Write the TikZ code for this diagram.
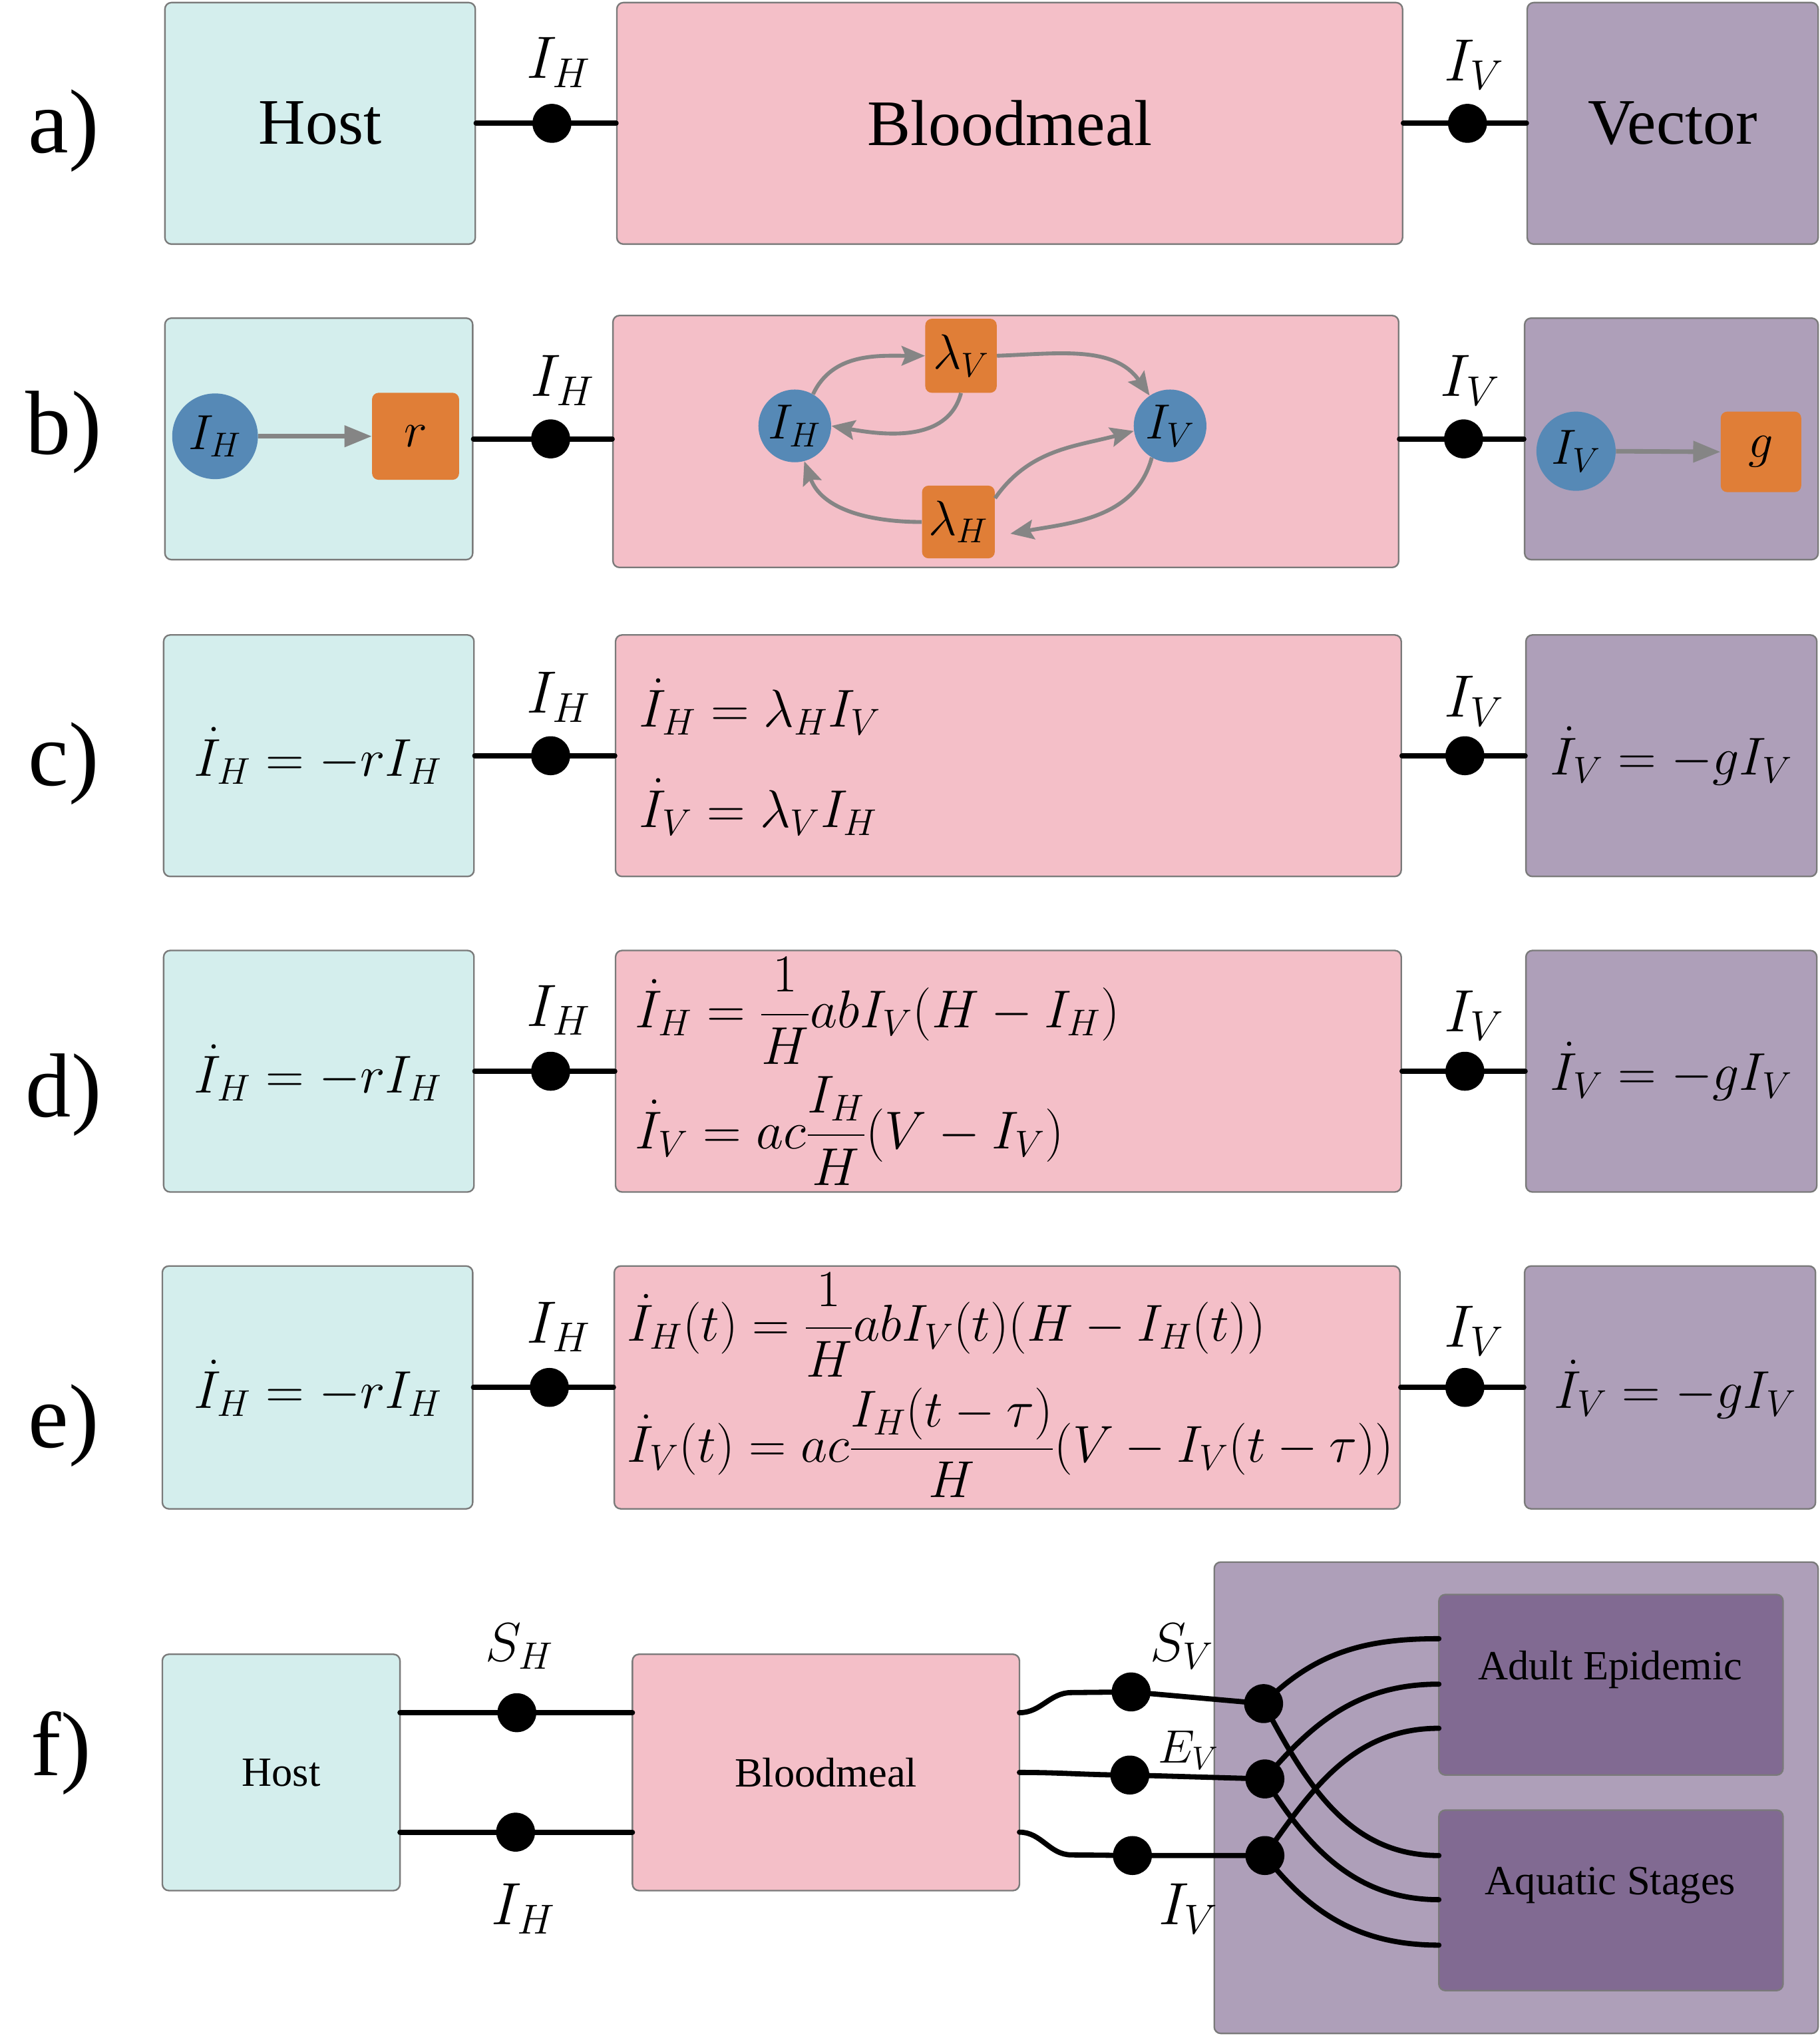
\RequirePackage{fix-cm}
\documentclass[tikz,border=0pt]{standalone}
\usepackage{amsmath}
\usepackage[no-math]{fontspec}
\setmainfont{Liberation Serif}
\usetikzlibrary{arrows.meta}
\definecolor{hostc}{HTML}{D4EEED}
\definecolor{bloodc}{HTML}{F4BFC8}
\definecolor{vecc}{HTML}{AE9FB9}
\definecolor{innerc}{HTML}{816A92}
\definecolor{orangec}{HTML}{E07E37}
\definecolor{bluec}{HTML}{5689B6}
\definecolor{arrowc}{HTML}{858585}
\definecolor{borderc}{HTML}{7A7A7A}
\newcommand\myfs[1]{\fontsize{#1}{#1}\selectfont}
\begin{document}
\begin{tikzpicture}[x=1pt,y=-1pt,
  box/.style={draw=borderc, line width=1.2, rounded corners=5, inner sep=0},
  panel/.style={font=\myfs{70}},
  boxtext/.style={font=\myfs{50}},
  smalltext/.style={font=\myfs{32}},
  lab/.style={font=\myfs{46}},
  eq/.style={font=\myfs{41}, inner sep=0},
  conn/.style={line width=4, black, line cap=round},
  jdot/.style={circle, fill=black, minimum size=30, inner sep=0},
  garrow/.style={draw=arrowc, line width=3.5, -{Triangle[length=21,width=16]}},
  carrow/.style={draw=arrowc, line width=3, -{Stealth[length=18,width=15,inset=3]}},
  comp/.style={circle, fill=bluec, inner sep=0, font=\myfs{38}},
  rate/.style={fill=orangec, rounded corners=5, inner sep=0, font=\myfs{38}},
]
\useasboundingbox (0,0) rectangle (1401,1568);

% panel labels
\node[panel] (la) at (49,101) {a)};
\node[panel] (lb) at (49,333) {b)};
\node[panel] (lc) at (49,588) {c)};
\node[panel] (ld) at (49,843) {d)};
\node[panel] (le) at (49,1098) {e)};
\node[panel] (lf) at (47,1350) {f)};

% ---------- Row a ----------
\node[box, fill=hostc, minimum width=239, minimum height=186, boxtext] (ha) at (246.5,95) {Host};
\node[box, fill=bloodc, minimum width=605, minimum height=186, boxtext] (ba) at (777.5,95) {Bloodmeal};
\node[box, fill=vecc, minimum width=224, minimum height=186, boxtext] (va) at (1288,95) {Vector};
\node[jdot] (da1) at (425,95) {};
\node[jdot] (da2) at (1130,95) {};
\draw[conn] (ha.east) -- (da1.center) -- (ba.west);
\draw[conn] (ba.east) -- (da2.center) -- (va.west);
\node[lab] (ta1) at (430,48) {$I_H$};
\node[lab] (ta2) at (1135,50) {$I_V$};

% ---------- Row b ----------
\node[box, fill=hostc, minimum width=237, minimum height=186] (hb) at (245.5,338) {};
\node[box, fill=bloodc, minimum width=605, minimum height=194] (bb) at (774.5,340) {};
\node[box, fill=vecc, minimum width=226, minimum height=186] (vb) at (1287,338) {};
\node[jdot] (db1) at (424,338) {};
\node[jdot] (db2) at (1127,338) {};
\draw[conn] (hb.east) -- (db1.center) -- (db1.center -| bb.west);
\draw[conn] (db2.center -| bb.east) -- (db2.center) -- (vb.west);
\node[lab] (tb1) at (433,293) {$I_H$};
\node[lab] (tb2) at (1132,293) {$I_V$};
% host inside
\node[comp, minimum size=66] (hbI) at (165.6,336) {$I_H$};
\node[rate, minimum width=67, minimum height=67] (hbr) at (320,336) {$r$};
\draw[garrow] (hbI.east) -- (hbr.west);
% vector inside
\node[comp, minimum size=61] (vbI) at (1213.6,347.5) {$I_V$};
\node[rate, minimum width=62, minimum height=62] (vbg) at (1356,348) {$g$};
\draw[garrow] (vbI.east) -- (vbg.west);
% bloodmeal inside
\node[comp, minimum size=56] (bIH) at (612,328) {$I_H$};
\node[comp, minimum size=56] (bIV) at (901,328) {$I_V$};
\node[rate, minimum width=55, minimum height=57] (blV) at (740,274) {$\lambda_V$};
\node[rate, minimum width=56, minimum height=56] (blH) at (738,402) {$\lambda_H$};
\coordinate (blHin) at (778,411);
\draw[carrow] (bIH.60) to[out=65,in=180] (blV.west);
\draw[carrow] (blV.south) to[out=-105,in=-10] (bIH.east);
\draw[carrow] (blV.east) to[out=2,in=125] (bIV.124);
\draw[carrow] (blH.33) to[out=55,in=195] (bIV.188);
\draw[carrow] (bIV.240) to[out=-105,in=10] (blHin);
\draw[carrow] (blH.west) to[out=180,in=-70] (bIH.-75);

% ---------- Row c ----------
\node[box, fill=hostc, minimum width=239, minimum height=186] (hc) at (245.5,582) {};
\node[box, fill=bloodc, minimum width=605, minimum height=186] (bc) at (776.5,582) {};
\node[box, fill=vecc, minimum width=224, minimum height=186] (vc) at (1287,582) {};
\node[jdot] (dc1) at (424,582) {};
\node[jdot] (dc2) at (1128,582) {};
\draw[conn] (hc.east) -- (dc1.center) -- (bc.west);
\draw[conn] (bc.east) -- (dc2.center) -- (vc.west);
\node[lab] (tc1) at (430,537) {$I_H$};
\node[lab] (tc2) at (1135,540) {$I_V$};
\node[eq] (ehc) at (245,582) {$\dot I_H = -rI_H$};
\node[eq] (evc) at (1287,582) {$\dot I_V = -gI_V$};
\node[eq, anchor=base west] (ebc1) at (492,560) {$\dot I_H = \lambda_H I_V$};
\node[eq, anchor=base west] (ebc2) at (492,637) {$\dot I_V = \lambda_V I_H$};

% ---------- Row d ----------
\node[box, fill=hostc, minimum width=239, minimum height=186] (hd) at (245.5,825) {};
\node[box, fill=bloodc, minimum width=605, minimum height=186] (bd) at (776.5,825) {};
\node[box, fill=vecc, minimum width=224, minimum height=186] (vd) at (1287,825) {};
\node[jdot] (dd1) at (424,825) {};
\node[jdot] (dd2) at (1128,825) {};
\draw[conn] (hd.east) -- (dd1.center) -- (bd.west);
\draw[conn] (bd.east) -- (dd2.center) -- (vd.west);
\node[lab] (td1) at (430,778) {$I_H$};
\node[lab] (td2) at (1135,782) {$I_V$};
\node[eq] (ehd) at (245,826) {$\dot I_H = -rI_H$};
\node[eq] (evd) at (1287,825) {$\dot I_V = -gI_V$};
\node[eq, anchor=base west] (ebd1) at (489,791.5) {$\displaystyle \dot I_H = \frac{1}{H}abI_V(H-I_H)$};
\node[eq, anchor=base west] (ebd2) at (489,884.5) {$\displaystyle \dot I_V = ac\frac{I_H}{H}(V-I_V)$};

% ---------- Row e ----------
\node[box, fill=hostc, minimum width=239, minimum height=187] (he) at (244.5,1068.5) {};
\node[box, fill=bloodc, minimum width=605, minimum height=187] (be) at (775.5,1068.5) {};
\node[box, fill=vecc, minimum width=224, minimum height=187] (ve) at (1286,1068.5) {};
\node[jdot] (de1) at (423,1068.5) {};
\node[jdot] (de2) at (1128,1068.5) {};
\draw[conn] (he.east) -- (de1.center) -- (be.west);
\draw[conn] (be.east) -- (de2.center) -- (ve.west);
\node[lab] (te1) at (430,1022) {$I_H$};
\node[lab] (te2) at (1135,1025) {$I_V$};
\node[eq] (ehe) at (245,1069) {$\dot I_H = -rI_H$};
\node[eq] (eve) at (1290,1070) {$\dot I_V = -gI_V$};
\node[eq, font=\myfs{40}, anchor=base west] (ebe1) at (483,1033) {$\displaystyle \dot I_H(t) = \frac{1}{H}abI_V(t)(H-I_H(t))$};
\node[eq, font=\myfs{40}, anchor=base west] (ebe2) at (483,1126) {$\displaystyle \dot I_V(t) = ac\frac{I_H(t-\tau)}{H}(V-I_V(t-\tau))$};

% ---------- Row f ----------
\node[box, fill=hostc, minimum width=183, minimum height=182, smalltext] (hf) at (216.5,1365) {Host};
\node[box, fill=bloodc, minimum width=298, minimum height=182, smalltext] (bf) at (636,1365) {Bloodmeal};
\node[box, fill=vecc, minimum width=465, minimum height=363] (vf) at (1167.5,1384.5) {};
\node[box, fill=innerc, minimum width=265, minimum height=139] (af) at (1240.5,1297.5) {};
\node[box, fill=innerc, minimum width=265, minimum height=139] (qf) at (1240.5,1463.5) {};
\node[smalltext] (aftext) at (1240,1286) {Adult Epidemic};
\node[smalltext] (qftext) at (1240,1452) {Aquatic Stages};
% host-bloodmeal
\node[jdot] (dfS) at (398,1319) {};
\node[jdot] (dfI) at (397,1411) {};
\coordinate (hfo1) at (308,1319);
\coordinate (hfo2) at (308,1411);
\coordinate (bfi1) at (487,1319);
\coordinate (bfi2) at (487,1411);
\draw[conn] (hfo1) -- (dfS.center) -- (bfi1);
\draw[conn] (hfo2) -- (dfI.center) -- (bfi2);
\node[lab, font=\myfs{42}] (tfS) at (400,1268) {$S_H$};
\node[lab] (tfI) at (403,1470) {$I_H$};
% bloodmeal-vector
\coordinate (bfo1) at (785,1319);
\coordinate (bfo2) at (785,1365);
\coordinate (bfo3) at (785,1411);
\coordinate (bend1) at (825,1303.5);
\coordinate (bend3) at (825,1428.5);
\node[jdot] (dl1) at (871,1303) {};
\node[jdot] (dl2) at (870,1367) {};
\node[jdot] (dl3) at (872,1429) {};
\node[jdot] (dr1) at (973,1312) {};
\node[jdot] (dr2) at (974,1370) {};
\node[jdot] (dr3) at (974,1429) {};
\draw[conn] (bfo1) to[out=0,in=180] (bend1) -- (dl1.center) -- (dr1.center);
\draw[conn] (bfo2) to[out=0,in=180] (dl2.center) -- (dr2.center);
\draw[conn] (bfo3) to[out=0,in=180] (bend3) -- (dl3.center) -- (dr3.center);
\node[lab, font=\myfs{42}] (tfSV) at (910,1268) {$S_V$};
\node[lab, font=\myfs{36}] (tfEV) at (915,1348) {$E_V$};
\node[lab] (tfIV) at (915,1470) {$I_V$};
% to compartments
\coordinate (a1) at (1108,1262);
\coordinate (a2) at (1108,1297);
\coordinate (a3) at (1108,1331);
\coordinate (q1) at (1108,1429);
\coordinate (q2) at (1108,1463);
\coordinate (q3) at (1108,1498);
\draw[conn] (dr1.center) to[out=45,in=180] (a1);
\draw[conn] (dr2.center) to[out=50,in=180] (a2);
\draw[conn] (dr3.center) to[out=55,in=180] (a3);
\draw[conn] (dr1.center) to[out=-62,in=180] (q1);
\draw[conn] (dr2.center) to[out=-58,in=180] (q2);
\draw[conn] (dr3.center) to[out=-52,in=180] (q3);
\end{tikzpicture}
\end{document}
